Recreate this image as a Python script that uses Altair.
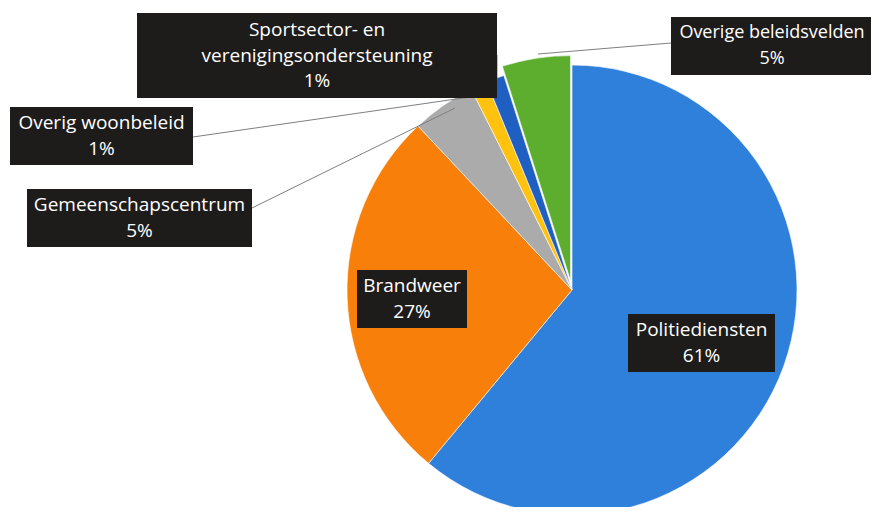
import math
import altair as alt
import pandas as pd

categories = ["Politiediensten", "Brandweer", "Gemeenschapscentrum",
              "Overig woonbeleid", "Sportsector- en verenigingsondersteuning",
              "Overige beleidsvelden"]
values = [61.0, 27.0, 4.6, 1.2, 1.3, 4.9]
pct_labels = ["61%", "27%", "5%", "1%", "1%", "5%"]
colors = ["#2F80DA", "#F77F0A", "#ABABAB", "#FFC20E", "#1F5FC2", "#5DAE2F"]

ends = []
acc = 0
for v in values:
    acc += v
    ends.append(acc)
starts = [e - v for e, v in zip(ends, values)]

df = pd.DataFrame({"cat": categories, "value": values, "start": starts,
                   "end": ends, "color": colors})

W, H = 863, 499
M = 8
CX, CY, R = 572 - M, 290 - M, 225

theta_scale = alt.Scale(domain=[0, 100], range=[0, 2 * math.pi])

def pie_layer(data, dx=0.0, dy=0.0):
    return alt.Chart(data).mark_arc(radius=R, stroke="white", strokeWidth=0.6).encode(
        theta=alt.Theta("start:Q", scale=theta_scale),
        theta2="end:Q",
        color=alt.Color("color:N", scale=None),
        x=alt.value(CX + dx),
        y=alt.value(CY + dy),
    )

main = pie_layer(df[df["cat"] != "Overige beleidsvelden"])
# exploded green slice
mid = (starts[5] + ends[5]) / 2 / 100 * 2 * math.pi
off = 9.5
green = pie_layer(df[df["cat"] == "Overige beleidsvelden"],
                  off * math.sin(mid), -off * math.cos(mid))

dummy = pd.DataFrame({"d": [0]})

# leader lines (page coordinates)
leaders = [
    [(497, 55), (497, 79)],
    [(193, 137), (484, 95)],
    [(252, 208), (455, 108)],
    [(671, 43), (538, 54)],
]
layers = [main, green]
for pts in leaders:
    (x1, y1), (x2, y2) = pts
    layers.append(alt.Chart(dummy).mark_rule(color="#7F7F7F", strokeWidth=1).encode(
        x=alt.value(x1 - M), y=alt.value(y1 - M),
        x2=alt.value(x2 - M), y2=alt.value(y2 - M)))

# label boxes: (x0, y0, x1, y1, text centre x, font size, lines) in page coords
boxes = [
    (137, 13, 497, 98, 317, 19, ["Sportsector- en", "verenigingsondersteuning", pct_labels[4]]),
    (10, 107, 193, 165, 101.5, 19, [categories[3], pct_labels[3]]),
    (27, 189, 252, 247, 139.5, 19, [categories[2], pct_labels[2]]),
    (671, 17, 878, 75, 772, 18, [categories[5], pct_labels[5]]),
    (357, 270, 467, 328, 412, 19, [categories[1], pct_labels[1]]),
    (628, 314, 775, 372, 701.5, 19, [categories[0], pct_labels[0]]),
]
for x0, y0, x1, y1, tx, fs, lines in boxes:
    layers.append(alt.Chart(dummy).mark_rect(color="#1E1C1B").encode(
        x=alt.value(x0 - M), x2=alt.value(x1 - M),
        y=alt.value(y0 - M), y2=alt.value(y1 - M)))
    n = len(lines)
    lh = 25.5
    cy = (y0 + y1) / 2 - M
    top = cy - (n - 1) * lh / 2
    layers.append(alt.Chart(dummy).mark_text(
        color="white", font="Open Sans", fontSize=fs, lineHeight=lh,
        baseline="middle", align="center").encode(
        x=alt.value(tx - M), y=alt.value(top),
        text=alt.value(lines)))

chart = alt.layer(*layers).properties(
    width=W, height=H, padding=0, autosize=alt.AutoSizeParams(type="none")
).configure_view(stroke=None)

chart.save("out.html", embed_options={"renderer": "svg", "actions": False})
